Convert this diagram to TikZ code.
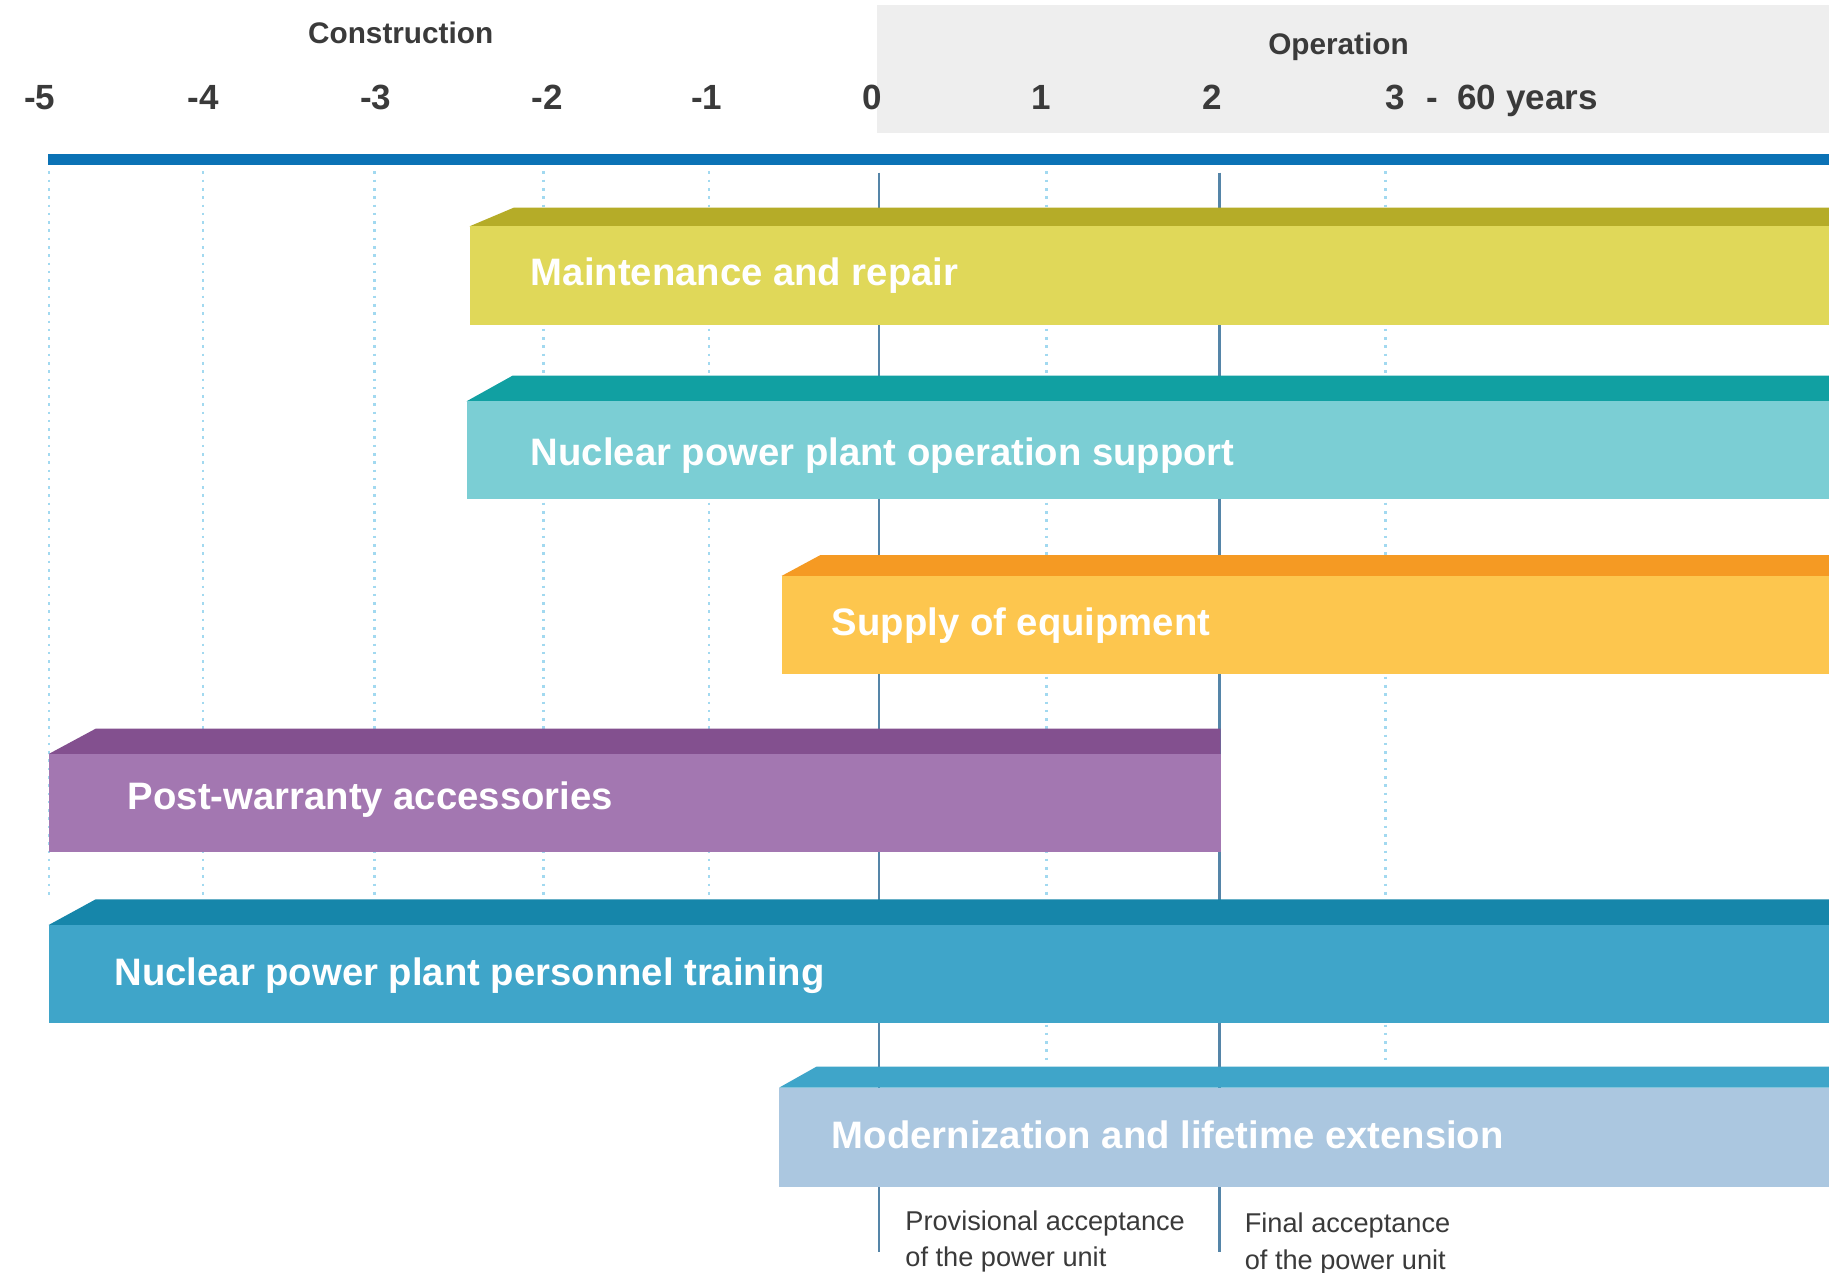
\documentclass[tikz,border=0pt]{standalone}
\usepackage{fontspec}
\setmainfont{Liberation Sans}
\definecolor{graybox}{HTML}{EEEEEE}
\definecolor{axisblue}{HTML}{0B72B5}
\definecolor{dotblue}{HTML}{A2D9F0}
\definecolor{mileline}{HTML}{5585A8}
\definecolor{txtdark}{HTML}{3A3A3A}
\definecolor{mtop}{HTML}{B5AC28}\definecolor{mfront}{HTML}{E0D859}
\definecolor{otop}{HTML}{11A0A2}\definecolor{ofront}{HTML}{7BCED4}
\definecolor{stop}{HTML}{F59A23}\definecolor{sfront}{HTML}{FDC64E}
\definecolor{ptop}{HTML}{83508F}\definecolor{pfront}{HTML}{A377B1}
\definecolor{ttop}{HTML}{1686AA}\definecolor{tfront}{HTML}{3FA5C9}
\definecolor{xtop}{HTML}{3FA5C9}\definecolor{xfront}{HTML}{ABC7E0}
\tikzset{
  hdr/.style={font=\bfseries\fontsize{25.5}{30}\selectfont, text=txtdark, inner sep=0pt, anchor=base},
  tick/.style={font=\bfseries\fontsize{30}{36}\selectfont, text=txtdark, inner sep=0pt, anchor=base},
  barlabel/.style={font=\bfseries\fontsize{32.8}{39}\selectfont, text=white, inner sep=0pt, anchor=base west},
  note/.style={font=\fontsize{23.3}{28}\selectfont, text=txtdark, inner sep=0pt, anchor=base west},
  gridline/.style={dotblue, line width=2.2pt, dash pattern=on 2.2pt off 4.9pt},
  milestone/.style={mileline, line width=2pt},
}
% bar: x0, slant end x, right x, top y, front y, bottom y, top colour, front colour
\newcommand{\mybar}[8]{%
  \fill[#7] (#1,#5) -- (#2,#4) -- (#3,#4) -- (#3,#5) -- cycle;
  \fill[#8] (#1,#5) rectangle (#3,#6);
}
\begin{document}
\begin{tikzpicture}[x=1pt,y=-1pt]
\useasboundingbox (0,0) rectangle (1568,1091);
\fill[white] (0,0) rectangle (1568,1091);
% operation background
\fill[graybox] (752,4.3) rectangle (1568,113.7);
% headers
\node[hdr] (construction) at (343.5,37) {Construction};
\node[hdr] (operation) at (1147.5,47) {Operation};
% tick labels
\node[tick] (tm5) at (34,93.7) {-5};
\node[tick] (tm4) at (174,93.7) {-4};
\node[tick] (tm3) at (322,93.7) {-3};
\node[tick] (tm2) at (469,93.7) {-2};
\node[tick] (tm1) at (606,93.7) {-1};
\node[tick] (t0) at (748,93.7) {0};
\node[tick] (t1) at (893,93.7) {1};
\node[tick] (t2) at (1039,93.7) {2};
\node[tick, anchor=base west] (t3) at (1187.6,93.7) {3\hspace{18.5pt}-\hspace{16.5pt}60 years};
% axis line
\fill[axisblue] (41,132) rectangle (1568,141.5);
% dotted grid
\foreach \gx/\gn/\gb in {42/a/770,174/b/770,321/c/770,466/d/770,608/e/770,897/f/911,1188/g/911}{
  \coordinate (g\gn top) at (\gx,147);
  \coordinate (g\gn bot) at (\gx,\gb);
  \draw[gridline] (g\gn top) -- (g\gn bot);
}
% milestone lines
\coordinate (m0top) at (753.5,148);
\coordinate (m0bot) at (753.5,1073);
\coordinate (m2top) at (1045.5,148);
\coordinate (m2bot) at (1045.5,1073);
\draw[milestone] (m0top) -- (m0bot);
\draw[milestone] (m2top) -- (m2bot);
% bars
\mybar{402.6}{440.5}{1568}{178}{194}{278.5}{mtop}{mfront}
\mybar{400}{439.5}{1568}{322}{344}{428}{otop}{ofront}
\mybar{670}{703}{1568}{476}{493.8}{578}{stop}{sfront}
\mybar{41.7}{82}{1046.5}{624.7}{646.4}{730}{ptop}{pfront}
\mybar{41.7}{82}{1568}{771}{793}{877}{ttop}{tfront}
\mybar{668}{700}{1568}{914.4}{932.4}{1017.3}{xtop}{xfront}
% bar labels
\node[barlabel] (lmaint) at (455,244.7) {Maintenance and repair};
\node[barlabel] (lops) at (455,398.7) {Nuclear power plant operation support};
\node[barlabel] (lsup) at (713,544.7) {Supply of equipment};
\node[barlabel] (lpost) at (109.5,693.7) {Post-warranty accessories};
\node[barlabel] (ltrain) at (98,844.7) {Nuclear power plant personnel training};
\node[barlabel] (lmod) at (713,984.7) {Modernization and lifetime extension};
% milestone notes
\node[note] (prov1) at (776,1054.5) {Provisional acceptance};
\node[note] (prov2) at (776,1086) {of the power unit};
\node[note] (fin1) at (1067,1057) {Final acceptance};
\node[note] (fin2) at (1067,1088.5) {of the power unit};
\end{tikzpicture}
\end{document}
